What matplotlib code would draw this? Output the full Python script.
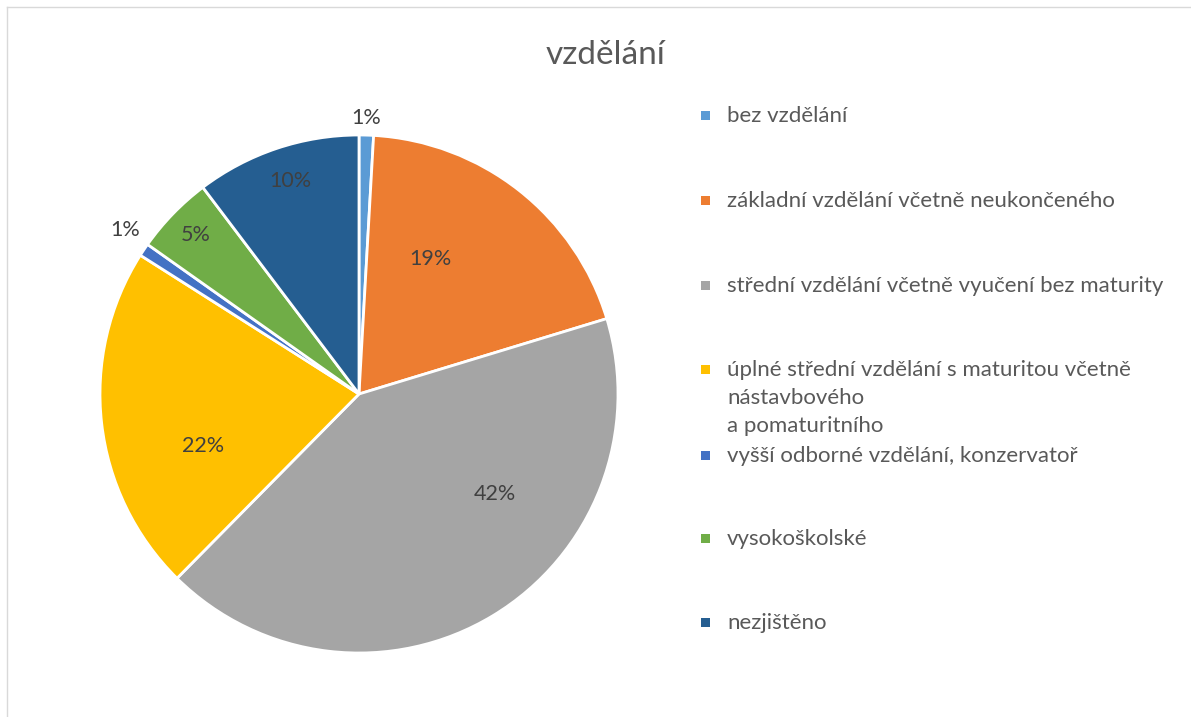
import matplotlib.pyplot as plt
from matplotlib.patches import Rectangle
from matplotlib.lines import Line2D

plt.rcParams['font.family'] = ['Lato', 'DejaVu Sans']

categories = [
    'bez vzdělání',
    'základní vzdělání včetně neukončeného',
    'střední vzdělání včetně vyučení bez maturity',
    'úplné střední vzdělání s maturitou včetně\nnástavbového\na pomaturitního',
    'vyšší odborné vzdělání, konzervatoř',
    'vysokoškolské',
    'nezjištěno',
]
shares = [0.9, 19.4, 42.1, 21.6, 0.8, 4.9, 10.3]
colors = ['#5B9BD5', '#ED7D31', '#A5A5A5', '#FFC000', '#4472C4', '#70AD47', '#255E91']

# label placement (pie-radius units), Excel "best fit" look
label_xy = [(0.027, 1.066), (0.274, 0.521), (0.525, -0.386), (-0.602, -0.201),
            (-0.903, 0.633), (-0.629, 0.614), (-0.266, 0.822)]
# legend rows, pixel y from top
legend_y = [115, 200, 285, 369, 455, 538, 622]

W, H = 1191, 717
fig = plt.figure(figsize=(W / 100, H / 100), dpi=100)
fig.patch.set_facecolor('white')

cx, cy, R = 359, 394, 259
ax = fig.add_axes([(cx - R) / W, (H - cy - R) / H, 2 * R / W, 2 * R / H])
wedges, texts, autotexts = ax.pie(
    shares, colors=colors, startangle=90, counterclock=False,
    autopct='%.0f%%', wedgeprops=dict(edgecolor='white', linewidth=2),
    textprops=dict(color='#404040', fontsize=15.5))
for t, (x, y) in zip(autotexts, label_xy):
    t.set_position((x, y))
    t.set_ha('center'); t.set_va('center')
ax.set_xlim(-1, 1); ax.set_ylim(-1, 1)
ax.set_aspect('equal')
ax.axis('off')

fig.text(605 / W, 1 - 55 / H, 'vzdělání', ha='center', va='center',
         fontsize=24, color='#595959')

for lab, col, y in zip(categories, colors, legend_y):
    fig.add_artist(Rectangle((701 / W, 1 - (y + 5) / H), 9 / W, 9 / H,
                             transform=fig.transFigure, facecolor=col, edgecolor='none'))
    fig.text(727 / W, 1 - (y - 9) / H, lab, ha='left', va='top',
             fontsize=16, color='#595959', linespacing=1.5)

# chart-area border (partly visible)
fig.add_artist(Line2D([6.5 / W, 6.5 / W], [0, 1 - 7 / H], transform=fig.transFigure,
                      color='#D9D9D9', linewidth=1))
fig.add_artist(Line2D([6.5 / W, 1], [1 - 7 / H, 1 - 7 / H], transform=fig.transFigure,
                      color='#D9D9D9', linewidth=1))

fig.savefig('out.png', dpi=100)
